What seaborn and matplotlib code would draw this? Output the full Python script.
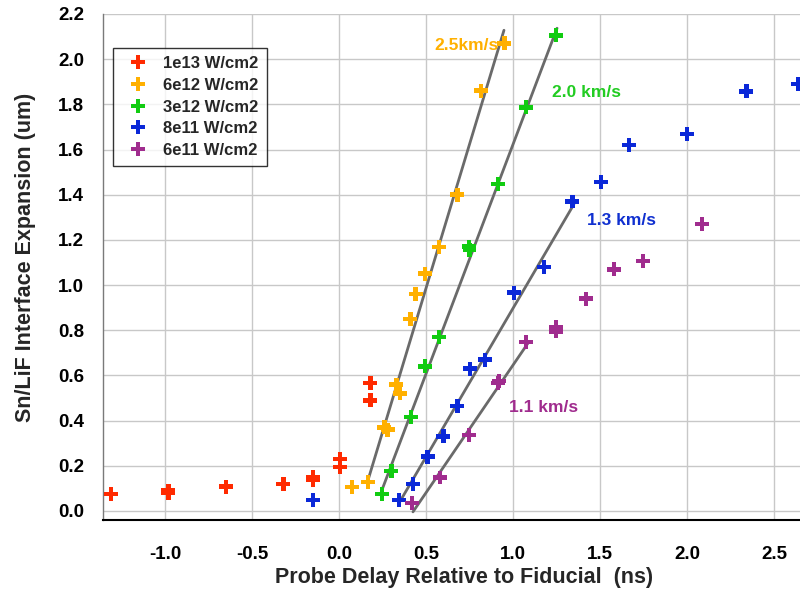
import numpy as np
import pandas as pd
import matplotlib
matplotlib.use("Agg")
import matplotlib.pyplot as plt
import seaborn as sns

# ---- data ----
series_names = ["1e13 W/cm2", "6e12 W/cm2", "3e12 W/cm2", "8e11 W/cm2", "6e11 W/cm2"]
series_colors = ["#FF2A00", "#FFB000", "#11CC11", "#0A28D8", "#A02C8E"]

x_1e13 = [-1.31, -0.98, -0.98, -0.65, -0.32, -0.15, -0.15, 0.005, 0.005, 0.18, 0.18]
y_1e13 = [0.075, 0.09, 0.08, 0.107, 0.12, 0.15, 0.137, 0.23, 0.195, 0.567, 0.49]

x_6e12 = [0.075, 0.167, 0.26, 0.28, 0.33, 0.35, 0.41, 0.44, 0.494, 0.575, 0.68, 0.816, 0.95]
y_6e12 = [0.106, 0.128, 0.37, 0.36, 0.56, 0.52, 0.85, 0.96, 1.05, 1.168, 1.40, 1.86, 2.07]

x_3e12 = [0.247, 0.30, 0.414, 0.494, 0.575, 0.747, 0.75, 0.914, 1.075, 1.247]
y_3e12 = [0.075, 0.177, 0.416, 0.64, 0.77, 1.17, 1.155, 1.447, 1.787, 2.106]

x_8e11 = [-0.15, 0.345, 0.425, 0.51, 0.60, 0.68, 0.753, 0.84, 1.006, 1.178, 1.34, 1.506, 1.667, 2.0, 2.34, 2.64]
y_8e11 = [0.049, 0.049, 0.12, 0.24, 0.33, 0.465, 0.63, 0.67, 0.966, 1.08, 1.37, 1.456, 1.62, 1.668, 1.858, 1.89]

x_6e11 = [0.42, 0.58, 0.747, 0.914, 0.92, 1.075, 1.247, 1.247, 1.42, 1.58, 1.747, 2.086]
y_6e11 = [0.035, 0.148, 0.336, 0.566, 0.575, 0.748, 0.815, 0.795, 0.94, 1.07, 1.107, 1.27]

# fit lines (start / end points) for four series
fit_series = ["6e12 W/cm2", "3e12 W/cm2", "8e11 W/cm2", "6e11 W/cm2"]
fit_x0 = [0.167, 0.247, 0.345, 0.425]
fit_y0 = [0.137, 0.093, 0.035, -0.004]
fit_x1 = [0.948, 1.253, 1.350, 1.086]
fit_y1 = [2.128, 2.137, 1.358, 0.743]

vel_labels = ["2.5km/s", "2.0 km/s", "1.3 km/s", "1.1 km/s"]
vel_x = [0.546, 1.224, 1.425, 0.977]
vel_y = [2.06, 1.854, 1.288, 0.46]
vel_colors = ["#FFB000", "#22CC22", "#1030D0", "#A02C8E"]

x_ticks = [-1.0, -0.5, 0.0, 0.5, 1.0, 1.5, 2.0, 2.5]
y_ticks = [0.0, 0.2, 0.4, 0.6, 0.8, 1.0, 1.2, 1.4, 1.6, 1.8, 2.0, 2.2]

# ---- build tables ----
xs = [x_1e13, x_6e12, x_3e12, x_8e11, x_6e11]
ys = [y_1e13, y_6e12, y_3e12, y_8e11, y_6e11]
rows = []
for name, xv, yv in zip(series_names, xs, ys):
    for a, b in zip(xv, yv):
        rows.append({"delay": a, "expansion": b, "series": name})
df = pd.DataFrame(rows)

fit_rows = []
for name, a0, b0, a1, b1 in zip(fit_series, fit_x0, fit_y0, fit_x1, fit_y1):
    fit_rows.append({"delay": a0, "expansion": b0, "series": name})
    fit_rows.append({"delay": a1, "expansion": b1, "series": name})
fit_df = pd.DataFrame(fit_rows)

sns.set_theme(style="white")
plt.rcParams["font.family"] = ["Liberation Sans", "DejaVu Sans"]

fig = plt.figure(figsize=(8.0, 5.97), dpi=100)
ax = fig.add_axes([103 / 800, 1 - 520 / 597, 697 / 800, 506 / 597])

# grid
ax.set_axisbelow(True)
ax.grid(True, color="#c8c8c8", linewidth=1.0)

# fit lines
for name in fit_series:
    sub = fit_df[fit_df["series"] == name]
    sns.lineplot(data=sub, x="delay", y="expansion", color="#6a6a6a",
                 linewidth=2.0, ax=ax, legend=False, sort=False, zorder=2)

palette = dict(zip(series_names, series_colors))
sns.scatterplot(data=df, x="delay", y="expansion", hue="series",
                hue_order=series_names, palette=palette, marker="P", s=100,
                linewidth=0, ax=ax, zorder=3)

for t, xv, yv, c in zip(vel_labels, vel_x, vel_y, vel_colors):
    ax.text(xv, yv, t, color=c, fontsize=12.5, fontweight="bold",
            ha="left", va="center", zorder=4)

ax.set_xlim(-1.356, 2.649)
ax.set_ylim(-0.04, 2.2)
ax.set_xticks(x_ticks)
ax.set_xticklabels([f"{v:.1f}" for v in x_ticks])
ax.set_yticks(y_ticks)
ax.set_yticklabels([f"{v:.1f}" for v in y_ticks])

for lab in ax.get_xticklabels() + ax.get_yticklabels():
    lab.set_fontweight("bold")
    lab.set_fontsize(13.5)
ax.tick_params(axis="both", direction="out", length=9.5, width=2.3,
               color="black", labelcolor="black")
ax.tick_params(axis="x", pad=9)
ax.tick_params(axis="y", pad=4)

for s in ["top", "right"]:
    ax.spines[s].set_visible(False)
ax.spines["left"].set_color("#7a7a7a")
ax.spines["left"].set_linewidth(1.0)
ax.spines["bottom"].set_color("black")
ax.spines["bottom"].set_linewidth(1.5)

ax.set_xlabel("Probe Delay Relative to Fiducial  (ns)", fontsize=15.5,
              fontweight="bold")
ax.set_ylabel("Sn/LiF Interface Expansion (um)", fontsize=15.5,
              fontweight="bold")
ax.xaxis.set_label_coords((464 - 103) / 697, (520 - 567) / 506)
ax.yaxis.set_label_coords((36 - 103) / 697, (520 - 257) / 506)

handles, labels = ax.get_legend_handles_labels()
leg = ax.legend(handles, labels, loc="upper left",
                bbox_to_anchor=(10 / 697, (520 - 48) / 506), borderaxespad=0,
                frameon=True, fancybox=False, edgecolor="black",
                prop={"weight": "bold", "size": 12}, handletextpad=0.5,
                labelspacing=0.4, borderpad=0.5, markerscale=1.0)
leg.get_frame().set_linewidth(1.0)

fig.savefig("out.png", dpi=100)
